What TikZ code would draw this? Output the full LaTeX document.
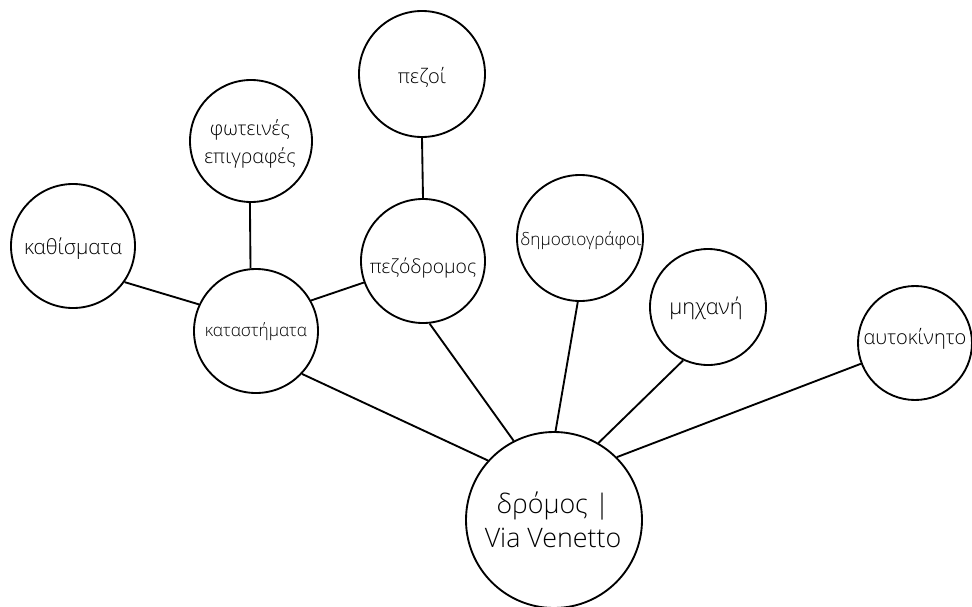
\documentclass[tikz,border=0pt]{standalone}
\usepackage{fontspec}
\setmainfont{Open Sans Light}
\begin{document}
\begin{tikzpicture}[x=0.75pt,y=-0.75pt,
  bubble/.style={circle,draw,line width=1.4pt,inner sep=0pt,minimum size=#1*1.5pt},
  txt/.style 2 args={font=\fontsize{#1}{#2}\selectfont,align=center,inner sep=0pt},
  link/.style={line width=1.4pt}]
\useasboundingbox (0,0) rectangle (972,607);

% hub
\node[bubble=88] (dromos) at (554,520) {};
\node[txt={20.1}{25.5}] (dromosT) at (553,520) {δρόμος |\\Via Venetto};

% branches
\node[bubble=62] (katast) at (256,331) {};
\node[txt={12.9}{16}] (katastT) at (256,332) {καταστήματα};

\node[bubble=62] (kathism) at (73,246) {};
\node[txt={15.5}{19}] (kathismT) at (73,249) {καθίσματα};

\node[bubble=61] (fotein) at (251,141) {};
\node[txt={14.8}{21}] (foteinT) at (250,144) {φωτεινές\\επιγραφές};

\node[bubble=62] (pezodr) at (423,261) {};
\node[txt={14.5}{18}] (pezodrT) at (423,268) {πεζόδρομος};

\node[bubble=63] (pezoi) at (422,74) {};
\node[txt={15}{18}] (pezoiT) at (422,77) {πεζοί};

\node[bubble=63] (dimos) at (580,238) {};
\node[txt={12.9}{16}] (dimosT) at (581,241) {δημοσιογράφοι};

\node[bubble=58] (michani) at (708,307) {};
\node[txt={16.3}{19}] (michaniT) at (706,308) {μηχανή};

\node[bubble=57] (aftok) at (915,343) {};
\node[txt={15}{18}] (aftokT) at (915,339) {αυτοκίνητο};

% connectors
\draw[link] (katast.-43) -- (dromos.138.6);
\draw[link] (pezodr.-84.5) -- (dromos.117.4);
\draw[link] (dimos.-92) -- (dromos.89.3);
\draw[link] (michani.-115.2) -- (dromos.60.6);
\draw[link] (aftok.201.6) -- (dromos.45.9);
\draw[link] (kathism.-35.4) -- (katast.155);
\draw[link] (fotein.-91) -- (katast.95.5);
\draw[link] (katast.29.3) -- (pezodr.200);
\draw[link] (pezoi.-90) -- (pezodr.90);
\end{tikzpicture}
\end{document}
